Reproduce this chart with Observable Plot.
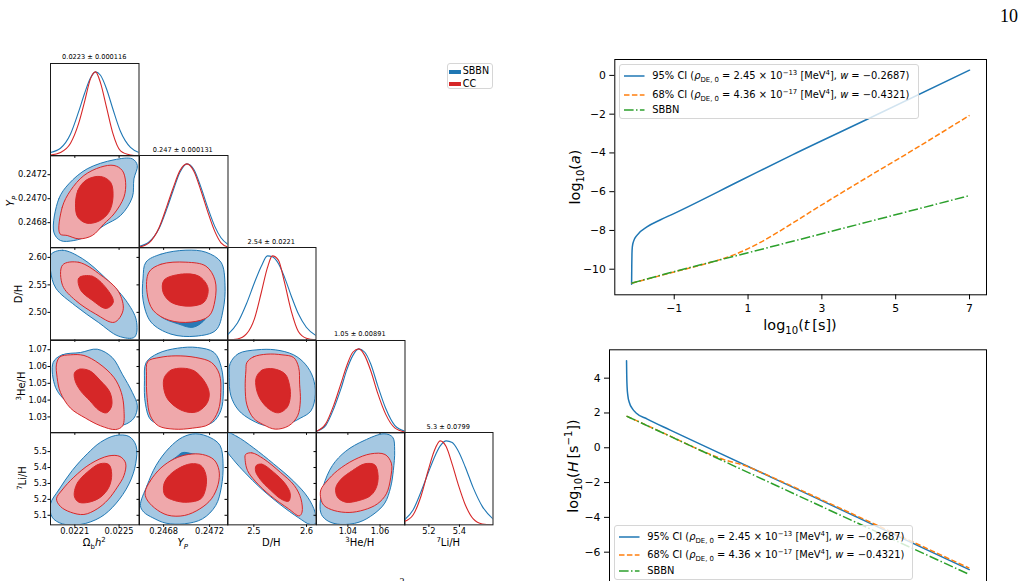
<!DOCTYPE html>
<html>
<head>
<meta charset="utf-8">
<script src="https://cdn.jsdelivr.net/npm/d3@7"></script>
<script src="https://cdn.jsdelivr.net/npm/@observablehq/plot@0.6"></script>
<style>
  html, body { margin: 0; padding: 0; background: #fff; }
  #page { position: relative; width: 1025px; height: 581px; overflow: hidden; background: #fff;
          font-family: "DejaVu Sans", sans-serif; color: #000; }
  .abs { position: absolute; }
  .box svg { overflow: visible; display: block; }
  .lbl { position: absolute; white-space: nowrap; line-height: 1; }
  .lbl sub, .lbl sup, .legend sub, .legend sup { font-size: 70%; line-height: 0; }
  .legend { position: absolute; border: 1px solid #d6d6d6; border-radius: 3px; background: rgba(255,255,255,0.8);
            box-sizing: border-box; }
  .legend .row { position: absolute; left: 0; white-space: nowrap; line-height: 1; }
  .legend svg { position: absolute; left: 0; top: -3px; overflow: visible; }
  .legend .txt { position: absolute; transform: translateY(-50%); }
</style>
</head>
<body>
<div id="page"></div>
<script>
// ---------------- Triangle plot: parameter ranges and ticks ----------------
const omegaDomain = [0.02188, 0.02268];
const ypDomain = [0.24659, 0.24736];
const dhDomain = [2.45, 2.618];
const he3Domain = [1.0205, 1.0755];
const li7Domain = [5.04, 5.62];

const omegaTicks = [0.0221, 0.0225];
const ypTicks = [0.2468, 0.2472];
const ypYTicks = [0.2468, 0.2470, 0.2472];
const dhTicks = [2.5, 2.6];
const dhYTicks = [2.50, 2.55, 2.60];
const he3Ticks = [1.04, 1.06];
const he3YTicks = [1.03, 1.04, 1.05, 1.06, 1.07];
const li7Ticks = [5.2, 5.4];
const li7YTicks = [5.1, 5.2, 5.3, 5.4, 5.5];

const summaries = ["0.0223 \u00b1 0.000116", "0.247 \u00b1 0.000131", "2.54 \u00b1 0.0221", "1.05 \u00b1 0.00891", "5.3 \u00b1 0.0799"];

// ---------------- 1D marginals (normalised to peak 1) ----------------
const omegaGrid = [0.021880, 0.021970, 0.022061, 0.022133, 0.022187, 0.022242, 0.022287, 0.022332, 0.022386, 0.022441, 0.022513, 0.022603, 0.022680];
const omegaSBBN = [0.04, 0.09, 0.26, 0.52, 0.74, 0.93, 1.0, 0.96, 0.80, 0.57, 0.29, 0.10, 0.04];
const omegaCC   = [0.01, 0.04, 0.15, 0.38, 0.64, 0.92, 1.0, 0.87, 0.58, 0.28, 0.06, 0.01, 0];

const ypGrid = [0.246590, 0.246673, 0.246760, 0.246829, 0.246882, 0.246942, 0.247003, 0.247064, 0.247125, 0.247186, 0.247247, 0.247299, 0.247360];
const ypSBBN = [0.02, 0.07, 0.23, 0.47, 0.68, 0.90, 1.0, 0.93, 0.72, 0.47, 0.25, 0.12, 0.04];
const ypCC   = [0.01, 0.06, 0.24, 0.50, 0.71, 0.92, 1.0, 0.91, 0.68, 0.42, 0.19, 0.06, 0.01];

const dhGrid = [2.450, 2.4689, 2.4860, 2.5011, 2.5144, 2.5258, 2.5352, 2.5466, 2.5580, 2.5712, 2.5845, 2.5996, 2.618];
const dhSBBN = [0.06, 0.20, 0.43, 0.68, 0.88, 1.0, 0.99, 0.91, 0.75, 0.52, 0.31, 0.15, 0.05];
const dhCC   = [0, 0.01, 0.07, 0.25, 0.57, 0.86, 1.0, 0.95, 0.69, 0.34, 0.10, 0.02, 0];

const he3Grid = [1.0205, 1.02628, 1.03124, 1.03559, 1.03932, 1.04304, 1.04677, 1.05050, 1.05422, 1.05857, 1.06354, 1.06912, 1.07552];
const he3SBBN = [0.02, 0.09, 0.29, 0.52, 0.75, 0.92, 1.0, 0.96, 0.82, 0.56, 0.29, 0.09, 0.02];
const he3CC   = [0.02, 0.11, 0.33, 0.58, 0.80, 0.96, 1.0, 0.92, 0.74, 0.47, 0.22, 0.06, 0.01];

const li7Grid = [5.040, 5.0971, 5.1496, 5.1955, 5.2348, 5.2742, 5.3136, 5.3529, 5.3923, 5.4382, 5.4907, 5.5497, 5.6199];
const li7SBBN = [0.06, 0.18, 0.40, 0.62, 0.80, 0.94, 1.0, 0.98, 0.88, 0.69, 0.44, 0.22, 0.07];
const li7CC   = [0.04, 0.12, 0.35, 0.65, 0.88, 1.0, 0.93, 0.72, 0.48, 0.24, 0.07, 0.01, 0];

// ---------------- 2D credible regions (68% / 95%), vertices in parameter units ----------------
const ypOmegaSBBN95 = [[0.021910,0.246721],[0.021955,0.246999],[0.022046,0.247124],[0.022212,0.247249],[0.022454,0.247324],[0.022620,0.247332],[0.022665,0.247277],[0.022634,0.247165],[0.022620,0.247013],[0.022514,0.246860],[0.022363,0.246776],[0.022227,0.246693],[0.022091,0.246651],[0.021970,0.246651]];
const ypOmegaCC95 = [[0.021965,0.246707],[0.021986,0.246929],[0.022061,0.247068],[0.022182,0.247193],[0.022333,0.247263],[0.022454,0.247277],[0.022529,0.247235],[0.022559,0.247137],[0.022544,0.247013],[0.022454,0.246873],[0.022363,0.246790],[0.022258,0.246693],[0.022137,0.246665],[0.022031,0.246693]];
const ypOmegaCC68 = [[0.022106,0.246929],[0.022127,0.247068],[0.022206,0.247157],[0.022333,0.247185],[0.022423,0.247137],[0.022445,0.247013],[0.022408,0.246887],[0.022318,0.246813],[0.022206,0.246796],[0.022127,0.246846]];

const dhOmegaSBBN95 = [[0.021880,2.6046],[0.021989,2.6130],[0.022168,2.5978],[0.022376,2.5626],[0.022560,2.5222],[0.022656,2.4853],[0.022640,2.4550],[0.022496,2.4567],[0.022312,2.4819],[0.022104,2.5122],[0.021928,2.5441],[0.021880,2.5760]];
const dhOmegaCC95 = [[0.021989,2.5861],[0.022136,2.5911],[0.022336,2.5676],[0.022496,2.5374],[0.022536,2.5038],[0.022456,2.4819],[0.022288,2.4970],[0.022104,2.5222],[0.021989,2.5491]];
const dhOmegaCC68 = [[0.022136,2.5626],[0.022256,2.5659],[0.022384,2.5441],[0.022448,2.5189],[0.022384,2.5071],[0.022256,2.5222],[0.022152,2.5407]];

const dhYpSBBN95 = [[0.246646,2.5913],[0.246777,2.6059],[0.246994,2.6131],[0.247168,2.6094],[0.247299,2.5913],[0.247334,2.5495],[0.247317,2.5039],[0.247255,2.4676],[0.247081,2.4567],[0.246864,2.4604],[0.246690,2.4823],[0.246621,2.5222],[0.246621,2.5622]];
const dhYpSBBN68 = [[0.246690,2.5585],[0.246820,2.5804],[0.247038,2.5841],[0.247194,2.5731],[0.247230,2.5313],[0.247168,2.4895],[0.247056,2.4730],[0.246933,2.4786],[0.246759,2.4950],[0.246690,2.5259]];
const dhYpCC95 = [[0.246672,2.5731],[0.246777,2.5876],[0.246994,2.5913],[0.247168,2.5841],[0.247247,2.5585],[0.247247,2.5222],[0.247194,2.4932],[0.247038,2.4823],[0.246846,2.4858],[0.246708,2.5039],[0.246655,2.5367]];
const dhYpCC68 = [[0.246803,2.5585],[0.246951,2.5694],[0.247107,2.5658],[0.247186,2.5441],[0.247151,2.5185],[0.247020,2.5113],[0.246864,2.5185],[0.246795,2.5367]];

const he3OmegaSBBN95 = [[0.021904,1.06241],[0.021986,1.06698],[0.022152,1.06835],[0.022302,1.07033],[0.022438,1.06538],[0.022529,1.05543],[0.022620,1.04454],[0.022665,1.03656],[0.022634,1.02925],[0.022544,1.02529],[0.022394,1.02529],[0.022212,1.03062],[0.022031,1.03860],[0.021926,1.04751]];
const he3OmegaCC95 = [[0.021934,1.06142],[0.021965,1.06577],[0.022061,1.06698],[0.022182,1.06659],[0.022318,1.06181],[0.022454,1.05345],[0.022520,1.04454],[0.022544,1.03458],[0.022532,1.02468],[0.022469,1.02248],[0.022333,1.02468],[0.022197,1.02925],[0.022061,1.03519],[0.021970,1.04454],[0.021940,1.05345]];
const he3OmegaCC68 = [[0.022098,1.05642],[0.022146,1.05845],[0.022236,1.05741],[0.022333,1.05147],[0.022418,1.04454],[0.022433,1.03656],[0.022387,1.03244],[0.022318,1.03398],[0.022236,1.03959],[0.022152,1.04553],[0.022103,1.05147]];

const he3YpSBBN95 = [[0.246648,1.06241],[0.246749,1.06775],[0.246922,1.07094],[0.247094,1.07132],[0.247239,1.06835],[0.247302,1.05944],[0.247320,1.04553],[0.247297,1.03359],[0.247224,1.02666],[0.247066,1.02446],[0.246835,1.02485],[0.246691,1.02804],[0.246642,1.03755],[0.246633,1.05147]];
const he3YpCC95 = [[0.246662,1.06302],[0.246763,1.06538],[0.246907,1.06637],[0.247080,1.06538],[0.247216,1.06241],[0.247285,1.05543],[0.247297,1.04454],[0.247274,1.03359],[0.247196,1.02567],[0.247051,1.02331],[0.246893,1.02270],[0.246754,1.02468],[0.246685,1.03062],[0.246656,1.04157],[0.246651,1.05444]];
const he3YpCC68 = [[0.246806,1.05345],[0.246864,1.05785],[0.246965,1.05900],[0.247066,1.05741],[0.247152,1.05147],[0.247196,1.04454],[0.247181,1.03860],[0.247109,1.03359],[0.247037,1.03260],[0.246936,1.03458],[0.246835,1.04058],[0.246800,1.04751]];

const he3DhSBBN95 = [[2.4550,1.06181],[2.4710,1.06775],[2.5058,1.06994],[2.5407,1.06994],[2.5755,1.06698],[2.5977,1.06142],[2.6123,1.05345],[2.6167,1.04355],[2.6084,1.03359],[2.5883,1.02925],[2.5597,1.02529],[2.5248,1.02468],[2.4962,1.02804],[2.4710,1.03398],[2.4564,1.04256],[2.4532,1.05345]];
const he3DhCC95 = [[2.4868,1.06241],[2.4994,1.06577],[2.5248,1.06736],[2.5533,1.06698],[2.5755,1.06538],[2.5851,1.05944],[2.5869,1.04949],[2.5883,1.03959],[2.5831,1.03062],[2.5661,1.02468],[2.5407,1.02270],[2.5185,1.02529],[2.4994,1.02925],[2.4868,1.03717],[2.4836,1.04751],[2.4849,1.05741]];
const he3DhCC68 = [[2.5046,1.05345],[2.5154,1.05785],[2.5375,1.05862],[2.5597,1.05543],[2.5679,1.04850],[2.5691,1.04157],[2.5629,1.03557],[2.5469,1.03244],[2.5298,1.03441],[2.5122,1.04058],[2.5046,1.04712]];

const liOmegaSBBN95 = [[0.021880,5.1717],[0.021955,5.2598],[0.022076,5.3810],[0.022212,5.4860],[0.022333,5.5591],[0.022469,5.6014],[0.022590,5.5951],[0.022653,5.5382],[0.022650,5.4234],[0.022590,5.2975],[0.022469,5.1717],[0.022333,5.0881],[0.022152,5.0423],[0.021986,5.0464],[0.021895,5.0881]];
const liOmegaCC95 = [[0.021934,5.2036],[0.021986,5.2598],[0.022091,5.3393],[0.022242,5.4234],[0.022408,5.4733],[0.022508,5.4692],[0.022559,5.4274],[0.022544,5.3497],[0.022484,5.2766],[0.022399,5.1972],[0.022302,5.1403],[0.022182,5.1050],[0.022061,5.1195],[0.021970,5.1554]];
const liOmegaCC68 = [[0.022098,5.2558],[0.022127,5.3080],[0.022212,5.3706],[0.022326,5.4234],[0.022408,5.4187],[0.022433,5.3561],[0.022408,5.2766],[0.022333,5.2140],[0.022227,5.1821],[0.022137,5.1821],[0.022098,5.2140]];

const liYpSBBN95 = [[0.246598,5.1612],[0.246656,5.2871],[0.246734,5.4129],[0.246849,5.5237],[0.246965,5.5904],[0.247080,5.6119],[0.247210,5.5864],[0.247291,5.5382],[0.247317,5.4234],[0.247302,5.2766],[0.247253,5.1612],[0.247138,5.0777],[0.246980,5.0464],[0.246821,5.0504],[0.246706,5.0841],[0.246628,5.1195]];
const liYpSBBN68 = [[0.246662,5.2558],[0.246777,5.3897],[0.246916,5.4692],[0.246965,5.4941],[0.247051,5.4860],[0.247181,5.4651],[0.247256,5.4025],[0.247262,5.2975],[0.247196,5.2036],[0.247066,5.1403],[0.246893,5.1195],[0.246749,5.1508],[0.246676,5.2036]];
const liYpCC95 = [[0.246639,5.2453],[0.246682,5.3143],[0.246777,5.3979],[0.246893,5.4547],[0.247014,5.4820],[0.247138,5.4820],[0.247239,5.4483],[0.247282,5.3810],[0.247274,5.2935],[0.247216,5.2036],[0.247115,5.1403],[0.246980,5.0986],[0.246835,5.1009],[0.246720,5.1467],[0.246651,5.2036]];
const liYpCC68 = [[0.246800,5.2871],[0.246835,5.3393],[0.246922,5.3915],[0.247037,5.4234],[0.247124,5.4129],[0.247167,5.3561],[0.247167,5.2726],[0.247124,5.2036],[0.247008,5.1821],[0.246893,5.1931],[0.246812,5.2244]];

const liDhSBBN95 = [[2.4500,5.6159],[2.4678,5.5951],[2.4994,5.5237],[2.5375,5.4234],[2.5755,5.3143],[2.6022,5.2140],[2.6162,5.1195],[2.6180,5.0504],[2.6072,5.0423],[2.5851,5.0841],[2.5501,5.1676],[2.5122,5.2726],[2.4836,5.3665],[2.4614,5.4483],[2.4500,5.5028]];
const liDhCC95 = [[2.4843,5.4820],[2.4962,5.4924],[2.5185,5.4547],[2.5501,5.3706],[2.5768,5.2871],[2.5894,5.2036],[2.5915,5.1195],[2.5862,5.0963],[2.5661,5.1403],[2.5311,5.2244],[2.5026,5.3143],[2.4880,5.3810],[2.4836,5.4443]];
const liDhCC68 = [[2.5046,5.4129],[2.5154,5.4211],[2.5375,5.3706],[2.5597,5.2975],[2.5691,5.2349],[2.5661,5.1885],[2.5533,5.1989],[2.5311,5.2598],[2.5122,5.3248],[2.5033,5.3770]];

const liHe3SBBN95 = [[1.02276,5.1717],[1.02485,5.2871],[1.03040,5.4129],[1.03871,5.5028],[1.05009,5.5695],[1.06247,5.6119],[1.06786,5.5904],[1.06907,5.5069],[1.06824,5.3810],[1.06659,5.2766],[1.06291,5.1763],[1.05625,5.1090],[1.04696,5.0568],[1.03557,5.0423],[1.02776,5.0632],[1.02358,5.1050]];
const liHe3CC95 = [[1.02320,5.2598],[1.02694,5.3143],[1.03354,5.3810],[1.04388,5.4483],[1.05422,5.4860],[1.06307,5.4820],[1.06703,5.4274],[1.06659,5.3352],[1.06390,5.2349],[1.05834,5.1717],[1.05009,5.1340],[1.04074,5.1177],[1.03145,5.1299],[1.02523,5.1612],[1.02320,5.2036]];
const liHe3CC68 = [[1.03249,5.2726],[1.03601,5.3288],[1.04283,5.3810],[1.05048,5.4234],[1.05669,5.4170],[1.05873,5.3561],[1.05790,5.2807],[1.05422,5.2244],[1.04696,5.1931],[1.03871,5.1821],[1.03354,5.2140]];

// ---------------- Background evolution: [log10 t, value] ----------------
const logtDomain = [-2.61, 7.46];
const logtTicks = [-1, 1, 3, 5, 7];
const logaDomain = [-11.32, 0.82];
const logaTicks = [-10, -8, -6, -4, -2, 0];
const loghDomain = [-7.88, 5.63];
const loghTicks = [-6, -4, -2, 0, 2, 4];

const logaCI95 = [[-2.155,-10.77],[-2.15,-9.8],[-2.145,-9.2],[-2.135,-8.85],[-2.1,-8.55],[-2.01,-8.25],[-1.74,-7.82],[-1.37,-7.45],[-1.01,-7.13],[0.81,-5.41],[2.2,-4.1],[4.3,-2.2],[7,0.27]];
const logaCI68 = [[-2.155,-10.72],[-1,-10.14],[0,-9.64],[0.5,-9.34],[0.9,-9.03],[1.35,-8.60],[1.8,-8.10],[2.26,-7.56],[2.71,-7.02],[3.17,-6.48],[4.08,-5.43],[5.35,-3.99],[7,-2.06]];
const logaSBBN = [[-2.155,-10.72],[-1.37,-10.31],[1,-9.15],[4.08,-7.64],[7,-6.2]];

const loghCI95 = [[-2.155,5.0],[-2.15,4.2],[-2.14,3.5],[-2.12,3.0],[-2.08,2.6],[-2.0,2.25],[-1.9,2.0],[-1.6,1.65],[-1,1.03],[0,0.02],[3,-2.98],[7,-7.0]];
const loghCI68 = [[-2.155,1.82],[-1,0.68],[0,-0.31],[0.5,-0.72],[1,-1.02],[1.5,-1.47],[2,-1.95],[3,-2.93],[4,-3.92],[5,-4.92],[7,-6.92]];
const loghSBBN = [[-2.155,1.82],[0,-0.33],[3,-3.32],[7,-7.28]];

// ---------------- Styling ----------------
const SBBN_LIGHT = "#a5c8e2", SBBN_DARK = "#2a78b5", SBBN_EDGE = "#1f77b4";
const CC_LIGHT = "#efa8ab", CC_DARK = "#d62728", CC_EDGE = "#d62728";
const C_BLUE = "#1f77b4", C_ORANGE = "#ff7f0e", C_GREEN = "#2ca02c";

const page = document.getElementById("page");
function place(node, left, top) {
  const d = document.createElement("div");
  d.className = "abs box";
  d.style.left = left + "px";
  d.style.top = top + "px";
  d.appendChild(node);
  page.appendChild(d);
  return d;
}
function label(html, cx, cy, size, rotate, extra) {
  const d = document.createElement("div");
  d.className = "lbl";
  d.innerHTML = html;
  d.style.left = cx + "px";
  d.style.top = cy + "px";
  d.style.fontSize = size + "px";
  d.style.transform = "translate(-50%, -50%)" + (rotate ? " rotate(-90deg)" : "");
  if (extra) Object.assign(d.style, extra);
  page.appendChild(d);
  return d;
}

// ---------------- Triangle plot ----------------
const variables = [
  {domain: omegaDomain, xt: omegaTicks, yt: omegaTicks, fx: d => d.toFixed(4), fy: d => d.toFixed(4), grid: omegaGrid, sbbn: omegaSBBN, cc: omegaCC},
  {domain: ypDomain, xt: ypTicks, yt: ypYTicks, fx: d => d.toFixed(4), fy: d => d.toFixed(4), grid: ypGrid, sbbn: ypSBBN, cc: ypCC},
  {domain: dhDomain, xt: dhTicks, yt: dhYTicks, fx: d => d.toFixed(1), fy: d => d.toFixed(2), grid: dhGrid, sbbn: dhSBBN, cc: dhCC},
  {domain: he3Domain, xt: he3Ticks, yt: he3YTicks, fx: d => d.toFixed(2), fy: d => d.toFixed(2), grid: he3Grid, sbbn: he3SBBN, cc: he3CC},
  {domain: li7Domain, xt: li7Ticks, yt: li7YTicks, fx: d => d.toFixed(1), fy: d => d.toFixed(1), grid: li7Grid, sbbn: li7SBBN, cc: li7CC}
];

const regions = {
  "1-0": {sbbn95: ypOmegaSBBN95, cc95: ypOmegaCC95, cc68: ypOmegaCC68},
  "2-0": {sbbn95: dhOmegaSBBN95, cc95: dhOmegaCC95, cc68: dhOmegaCC68},
  "2-1": {sbbn95: dhYpSBBN95, sbbn68: dhYpSBBN68, cc95: dhYpCC95, cc68: dhYpCC68},
  "3-0": {sbbn95: he3OmegaSBBN95, cc95: he3OmegaCC95, cc68: he3OmegaCC68},
  "3-1": {sbbn95: he3YpSBBN95, cc95: he3YpCC95, cc68: he3YpCC68},
  "3-2": {sbbn95: he3DhSBBN95, cc95: he3DhCC95, cc68: he3DhCC68},
  "4-0": {sbbn95: liOmegaSBBN95, cc95: liOmegaCC95, cc68: liOmegaCC68},
  "4-1": {sbbn95: liYpSBBN95, sbbn68: liYpSBBN68, cc95: liYpCC95, cc68: liYpCC68},
  "4-2": {sbbn95: liDhSBBN95, cc95: liDhCC95, cc68: liDhCC68},
  "4-3": {sbbn95: liHe3SBBN95, cc95: liHe3CC95, cc68: liHe3CC68}
};

const PW = 88.5, PH = 92.35, PX0 = 50, PY0 = 62.7;
const PM = {l: 40, r: 4, t: 4, b: 26};
const cornerStyle = {background: "transparent", overflow: "visible", fontFamily: "DejaVu Sans", fontSize: "8.3px", color: "#000"};

function region(pts, fill, stroke) {
  return Plot.line(pts, {x: d => d[0], y: d => d[1], curve: "catmull-rom-closed", fill, stroke, strokeWidth: 1, clip: true});
}

function cornerPanel(r, c) {
  const xv = variables[c], yv = variables[r], diag = r === c, bottom = r === 4;
  const marks = [];
  if (diag) {
    const rows = xv.grid.map((x, i) => ({x, sbbn: xv.sbbn[i], cc: xv.cc[i]}));
    marks.push(Plot.line(rows, {x: "x", y: "sbbn", stroke: C_BLUE, strokeWidth: 1.1, curve: "monotone-x", clip: true}));
    marks.push(Plot.line(rows, {x: "x", y: "cc", stroke: CC_EDGE, strokeWidth: 1.1, curve: "monotone-x", clip: true}));
  } else {
    const s = regions[r + "-" + c];
    if (s.sbbn95) marks.push(region(s.sbbn95, SBBN_LIGHT, SBBN_EDGE));
    if (s.sbbn68) marks.push(region(s.sbbn68, SBBN_DARK, SBBN_EDGE));
    if (s.cc95) marks.push(region(s.cc95, CC_LIGHT, CC_EDGE));
    if (s.cc68) marks.push(region(s.cc68, CC_DARK, CC_EDGE));
  }
  marks.push(Plot.frame({stroke: "#1a1a1a", strokeWidth: 1}));
  const chart = Plot.plot({
    width: PW + PM.l + PM.r, height: PH + PM.t + PM.b,
    marginLeft: PM.l, marginRight: PM.r, marginTop: PM.t, marginBottom: PM.b,
    style: cornerStyle,
    x: {domain: xv.domain, ticks: xv.xt, tickFormat: bottom ? xv.fx : () => "", tickSize: 2.5, tickPadding: 0.8, label: null},
    y: diag ? {domain: [0, 1.1], axis: null}
            : {domain: yv.domain, ticks: yv.yt, tickFormat: c === 0 ? yv.fy : () => "", tickSize: 2.5, tickPadding: 1, label: null},
    marks
  });
  place(chart, PX0 + c * PW - PM.l, PY0 + r * PH - PM.t);
}

for (let r = 0; r < 5; ++r) for (let c = 0; c <= r; ++c) cornerPanel(r, c);

summaries.forEach((s, i) => label(s, PX0 + i * PW + PW / 2, PY0 + i * PH - 5.3, 6.6));

const varTitles = [
  "\u03a9<sub>b</sub><i>h</i><sup>2</sup>",
  "<i>Y<sub>P</sub></i>",
  "D/H",
  "<sup>3</sup>He/H",
  "<sup>7</sup>Li/H"
];
varTitles.forEach((t, i) => label(t, PX0 + i * PW + PW / 2, 543, 10));
const leftTitleX = [11, 19, 21.5, 23];
[1, 2, 3, 4].forEach((v, k) => label(varTitles[v], leftTitleX[k], PY0 + v * PH + PH / 2, 10, true));

// triangle legend
(function () {
  const box = document.createElement("div");
  box.className = "legend";
  Object.assign(box.style, {left: "446.7px", top: "63.3px", width: "46.6px", height: "26px", fontSize: "9.6px"});
  box.innerHTML =
    '<div style="position:absolute;left:1px;top:6px;width:12px;height:3.5px;background:' + C_BLUE + '"></div>' +
    '<div style="position:absolute;left:15px;top:1.5px;line-height:1">SBBN</div>' +
    '<div style="position:absolute;left:1px;top:18px;width:12px;height:3.5px;background:' + CC_EDGE + '"></div>' +
    '<div style="position:absolute;left:15px;top:15px;line-height:1">CC</div>';
  page.appendChild(box);
})();

// ---------------- Background evolution panels ----------------
const lineStyle = {background: "transparent", overflow: "visible", fontFamily: "DejaVu Sans", fontSize: "10.8px", color: "#000"};
const fmtInt = d3.format("d");

function evolution(ci95, ci68, sbbn, yDomain, yTicks, m, top, showX) {
  const chart = Plot.plot({
    width: 460, height: 290,
    marginLeft: m.l, marginRight: 14, marginTop: m.t, marginBottom: m.b,
    style: lineStyle,
    x: showX ? {domain: logtDomain, ticks: logtTicks, tickFormat: fmtInt, tickSize: 5, tickPadding: 4.3, label: null}
             : {domain: logtDomain, axis: null},
    y: {domain: yDomain, ticks: yTicks, tickFormat: fmtInt, tickSize: 5, tickPadding: 4, label: null},
    marks: [
      Plot.line(ci95, {x: d => d[0], y: d => d[1], stroke: C_BLUE, strokeWidth: 1.5, curve: "monotone-x", clip: true}),
      Plot.line(ci68, {x: d => d[0], y: d => d[1], stroke: C_ORANGE, strokeWidth: 1.5, curve: "monotone-x", strokeDasharray: "5.5,2.4", strokeLinecap: "butt", clip: true}),
      Plot.line(sbbn, {x: d => d[0], y: d => d[1], stroke: C_GREEN, strokeWidth: 1.5, curve: "monotone-x", strokeDasharray: "9.6,2.4,1.5,2.4", strokeLinecap: "butt", clip: true}),
      Plot.frame({stroke: "#000", strokeWidth: 1})
    ]
  });
  place(chart, 540, top);
}

evolution(logaCI95, logaCI68, logaSBBN, logaDomain, logaTicks, {l: 74.3, t: 9, b: 45.7}, 50, true);
evolution(loghCI95, loghCI68, loghSBBN, loghDomain, loghTicks, {l: 69, t: 9.3, b: 45.6}, 340, false);

label("log<sub>10</sub>(<i>a</i>)", 575, 177, 14.4, true);
label("log<sub>10</sub>(<i>t</i>&#8201;[s])", 800, 325, 14.4);
label("log<sub>10</sub>(<i>H</i>&#8201;[s<sup>\u22121</sup>])", 573, 466, 14.4, true);

const legendEntries = [
  {html: "95% CI (<i>\u03c1</i><sub>DE, 0</sub> = 2.45 \u00d7 10<sup>\u221213</sup> [MeV<sup>4</sup>], <i>w</i> = \u22120.2687)", stroke: C_BLUE, dash: null},
  {html: "68% CI (<i>\u03c1</i><sub>DE, 0</sub> = 4.36 \u00d7 10<sup>\u221217</sup> [MeV<sup>4</sup>], <i>w</i> = \u22120.4321)", stroke: C_ORANGE, dash: "5.5,2.4"},
  {html: "SBBN", stroke: C_GREEN, dash: "9.6,2.4,1.5,2.4"}
];
const legendRowY = [10.5, 29.3, 44.7];

function lineLegend(left, top, width, height) {
  const box = document.createElement("div");
  box.className = "legend";
  Object.assign(box.style, {left: left + "px", top: top + "px", width: width + "px", height: height + "px", fontSize: "9.9px"});
  legendEntries.forEach((e, i) => {
    const row = document.createElement("div");
    row.className = "row";
    row.style.top = legendRowY[i] + "px";
    row.innerHTML =
      '<svg width="24" height="6" style="left:3.5px"><line x1="0" y1="3" x2="20.5" y2="3" stroke="' + e.stroke +
      '" stroke-width="1.5"' + (e.dash ? ' stroke-dasharray="' + e.dash + '"' : '') + '/></svg>' +
      '<span class="txt" style="left:32px">' + e.html + '</span>';
    box.appendChild(row);
  });
  page.appendChild(box);
}
lineLegend(619.3, 64.3, 299.7, 54.7);
lineLegend(614.3, 525, 299, 54.5);

// page furniture
label("10", 1009, 15.5, 18, false, {fontFamily: "'Liberation Serif', serif"});
label("2", 402, 582, 10, false, {fontFamily: "'Liberation Serif', serif"});
</script>
</body>
</html>
